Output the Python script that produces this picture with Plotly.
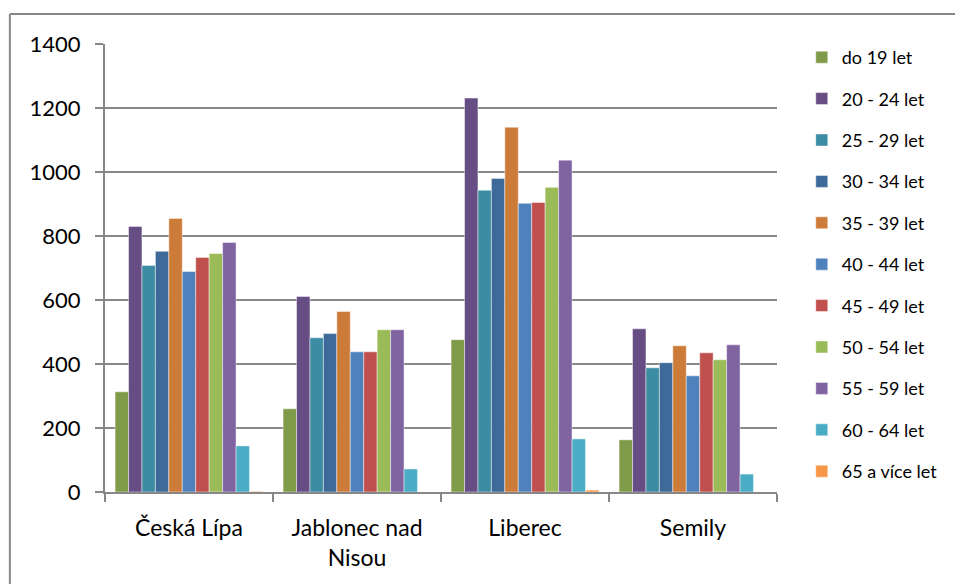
import plotly.graph_objects as go

districts = ["Česká Lípa", "Jablonec nad<br>Nisou", "Liberec", "Semily"]
age_groups = ["do 19 let", "20 - 24 let", "25 - 29 let", "30 - 34 let", "35 - 39 let",
              "40 - 44 let", "45 - 49 let", "50 - 54 let", "55 - 59 let", "60 - 64 let",
              "65 a více let"]
do19 = [313, 260, 476, 163]
a20_24 = [830, 611, 1231, 510]
a25_29 = [708, 482, 943, 388]
a30_34 = [752, 495, 980, 404]
a35_39 = [855, 564, 1140, 457]
a40_44 = [689, 438, 902, 363]
a45_49 = [733, 438, 905, 435]
a50_54 = [745, 507, 952, 413]
a55_59 = [780, 507, 1037, 460]
a60_64 = [144, 72, 166, 56]
a65 = [2, 0, 6, 0]
series = [do19, a20_24, a25_29, a30_34, a35_39, a40_44, a45_49, a50_54, a55_59, a60_64, a65]
colors = ["#7F9A48", "#664E85", "#3C8CA3", "#3E6A9A", "#CC7B38", "#4F81BD",
          "#C0504D", "#9BBB59", "#8064A2", "#4BACC6", "#F79646"]

fig = go.Figure()
for name, vals, col in zip(age_groups, series, colors):
    fig.add_trace(go.Bar(
        x=districts, y=vals, name=name, legendgroup=name,
        marker=dict(color=col, line=dict(color="rgba(255,255,255,0.45)", width=1)),
    ))

W, H = 955, 584
L, R, T, B = 105, 955 - 783, 44, 584 - 492
pw, ph = W - L - R, H - T - B
def px(x): return (x - L) / pw
def py(y): return (H - B - y) / ph

border = dict(color="#878787", width=2)
fig.update_layout(
    width=W, height=H,
    margin=dict(l=L, r=R, t=T, b=B, pad=0),
    paper_bgcolor="white", plot_bgcolor="white",
    barmode="group", bargap=0.12, bargroupgap=0,
    font=dict(family="Lato, 'Open Sans', sans-serif", color="#000000"),
    showlegend=True,
    legend=dict(x=px(808), y=py(39), xanchor="left", yanchor="top",
                font=dict(size=18), tracegroupgap=15, itemwidth=30,
                maxheight=1.0, bgcolor="rgba(0,0,0,0)"),
    xaxis=dict(tickson="boundaries", ticks="outside", ticklen=8, tickwidth=2,
               tickcolor="#878787", showline=True, linecolor="#878787", linewidth=2,
               tickfont=dict(size=23), ticklabelstandoff=14, showgrid=False),
    yaxis=dict(range=[0, 1400], dtick=200, ticks="outside", ticklen=8, tickwidth=2,
               tickcolor="#878787", showline=True, linecolor="#878787", linewidth=2,
               showgrid=True, gridcolor="#878787", gridwidth=2,
               tickfont=dict(size=22), ticklabelstandoff=10, zeroline=False),
    shapes=[
        dict(type="line", xref="paper", yref="paper",
             x0=px(9), x1=px(9), y0=py(620), y1=py(14), line=border, layer="below"),
        dict(type="line", xref="paper", yref="paper",
             x0=px(9), x1=px(1010), y0=py(14), y1=py(14), line=border, layer="below"),
    ],
)

fig.write_html("out.html", config={"displayModeBar": False},
               post_script="document.body.style.margin='0';document.body.style.overflow='hidden';")
